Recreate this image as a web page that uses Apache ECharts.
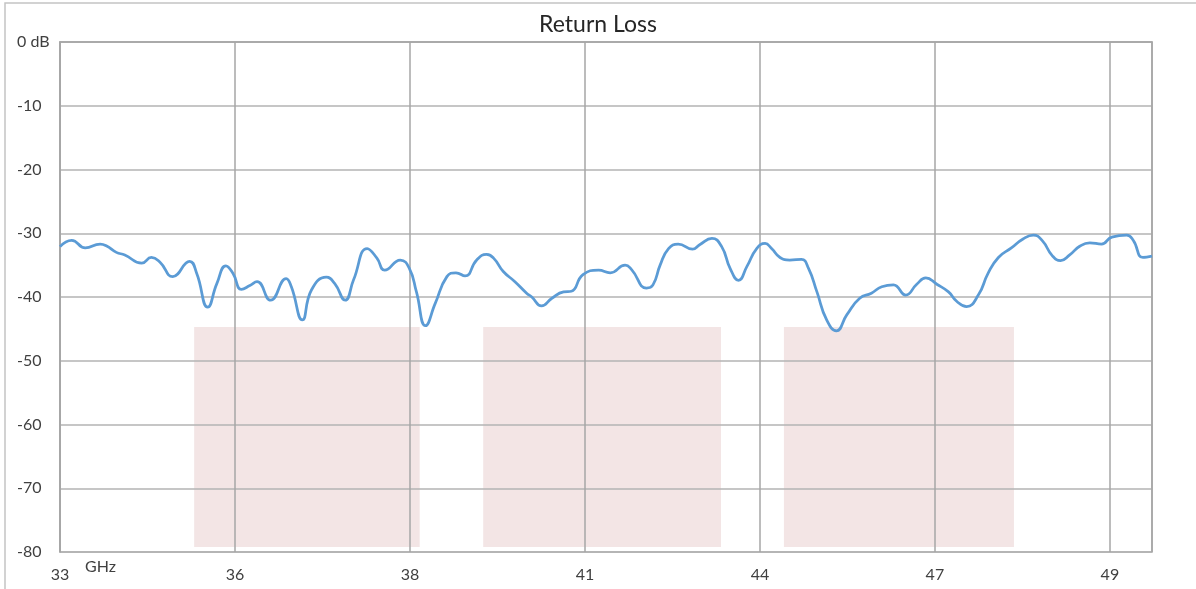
<!DOCTYPE html>
<html>
<head>
<meta charset="utf-8">
<script src="https://cdn.jsdelivr.net/npm/echarts@6/dist/echarts.min.js"></script>
<style>html,body{margin:0;padding:0;background:#fff;}#c{width:1196px;height:589px;}</style>
</head>
<body>
<div id="c"></div>
<script>
// ---- data ----
const chartTitle = 'Return Loss';
const xOrigin = 33;           // GHz at the left edge
const xEnd = 49.85;           // GHz at the right edge
const xTickStep = 2.7;        // GHz between vertical gridlines
const freqGHz = [33.00,33.18,33.39,33.62,33.72,33.87,34.00,34.26,34.41,34.54,34.74,35.00,35.11,35.28,35.42,35.56,35.67,35.80,35.93,36.04,36.25,36.49,36.57,36.74,36.88,37.11,37.24,37.40,37.53,37.74,37.89,38.01,38.25,38.39,38.50,38.64,38.79,38.97,39.11,39.25,39.43,39.58,39.69,39.84,40.02,40.20,40.28,40.43,40.59,40.77,40.89,41.07,41.31,41.49,41.72,41.82,42.05,42.15,42.26,42.39,42.54,42.76,42.87,43.06,43.21,43.34,43.47,43.60,43.75,43.88,43.98,44.11,44.26,44.44,44.55,44.68,44.83,44.98,45.14,45.34,45.52,45.68,45.86,46.05,46.22,46.36,46.53,46.71,46.84,46.99,47.17,47.32,47.48,47.68,47.86,48.02,48.16,48.31,48.44,48.58,48.74,48.89,49.07,49.23,49.46,49.56,49.71,49.85];
const returnLossDb = [-32.1,-31.1,-32.3,-31.7,-32.0,-33.0,-33.4,-34.7,-33.8,-34.5,-36.8,-34.4,-36.3,-41.6,-37.9,-35.1,-36.3,-38.8,-38.2,-37.6,-40.5,-37.1,-38.4,-43.6,-38.9,-36.9,-37.9,-40.5,-37.3,-32.4,-33.9,-35.8,-34.2,-35.5,-39.2,-44.5,-41.0,-36.8,-36.2,-36.7,-34.2,-33.3,-33.9,-36.0,-37.6,-39.4,-40.0,-41.4,-40.2,-39.2,-39.1,-36.5,-35.8,-36.2,-35.0,-35.7,-38.6,-38.1,-35.0,-32.4,-31.7,-32.5,-31.8,-30.8,-32.1,-35.5,-37.4,-35.2,-32.4,-31.6,-32.4,-33.8,-34.2,-34.1,-35.5,-39.2,-43.6,-45.3,-42.8,-40.2,-39.4,-38.4,-38.1,-39.7,-38.0,-37.0,-38.0,-39.2,-40.7,-41.5,-39.7,-36.3,-33.8,-32.3,-30.9,-30.3,-31.2,-33.5,-34.3,-33.4,-32.0,-31.5,-31.7,-30.6,-30.3,-31.1,-33.8,-33.6];
const bandStartGHz = [35.07, 39.53, 44.17];
const bandEndGHz   = [38.55, 43.20, 47.72];
const bandTopDb = -44.7;
const bandBottomDb = -79.2;
const yMin = -80, yMax = 0, yStep = 10;

// ---- chart ----
const chart = echarts.init(document.getElementById('c'));
const FONT = 'Lato, "Liberation Sans", sans-serif';
const TXT = '#404040';
const lineData = freqGHz.map((f, i) => [f - xOrigin, returnLossDb[i]]);
const bands = bandStartGHz.map((s, i) => [
  { xAxis: s - xOrigin, yAxis: bandTopDb },
  { xAxis: bandEndGHz[i] - xOrigin, yAxis: bandBottomDb }
]);

chart.setOption({
  animation: false,
  backgroundColor: '#ffffff',
  title: {
    text: chartTitle, left: 'center', top: 8,
    textStyle: { fontFamily: FONT, fontSize: 23, fontWeight: 'normal', color: '#262626' }
  },
  graphic: [
    { type: 'rect', shape: { x: 5, y: 3, width: 1400, height: 800 },
      style: { fill: 'none', stroke: '#c4c4c4', lineWidth: 1.5 }, silent: true, z: -1 },
    { type: 'text', left: 85, top: 559,
      style: { text: 'GHz', fontFamily: FONT, fontSize: 16, fill: TXT } }
  ],
  grid: { left: 60, top: 42, right: 44, bottom: 37, show: true,
          borderColor: '#a6a6a6', borderWidth: 1.5, backgroundColor: 'transparent' },
  xAxis: {
    type: 'value', min: 0, max: xEnd - xOrigin, interval: xTickStep,
    axisLine: { show: true, lineStyle: { color: '#a6a6a6', width: 1.5 } },
    axisTick: { show: false },
    splitLine: { show: true, lineStyle: { color: '#a6a6a6', width: 1.5 } },
    axisLabel: {
      margin: 15, fontFamily: FONT, fontSize: 16, color: TXT,
      formatter: v => {
        const k = v / xTickStep;
        if (Math.abs(k - Math.round(k)) > 1e-6) return '';
        return String(Math.round(v + xOrigin));
      }
    }
  },
  yAxis: {
    type: 'value', min: yMin, max: yMax, interval: yStep,
    axisLine: { show: true, lineStyle: { color: '#a6a6a6', width: 1.5 } },
    axisTick: { show: false },
    splitLine: { show: true, lineStyle: { color: '#b3b3b3', width: 1.5 } },
    axisLabel: {
      align: 'left', margin: 43, fontFamily: FONT, fontSize: 16, color: TXT,
      formatter: v => v === 0 ? '0 dB' : String(v)
    }
  },
  series: [{
    type: 'line', data: [], symbol: 'none', z: -1, silent: true,
    markArea: {
      silent: true, z: -1,
      itemStyle: { color: '#f3e5e5' },
      data: bands
    }
  }, {
    type: 'line', data: lineData, smooth: 0.5, symbol: 'none',
    lineStyle: { color: '#5b9bd5', width: 2.75 },
    z: 3
  }]
});
</script>
</body>
</html>
